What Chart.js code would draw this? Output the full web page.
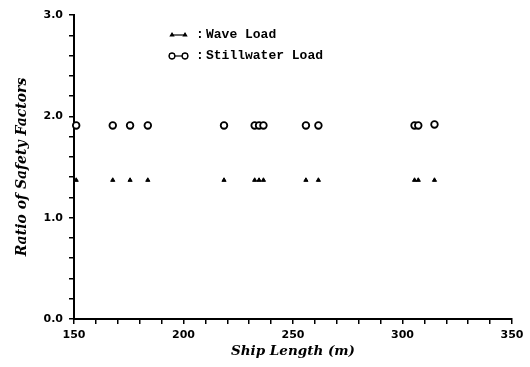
<!DOCTYPE html>
<html>
<head>
<meta charset="utf-8">
<script src="https://cdn.jsdelivr.net/npm/chart.js@4.4.1/dist/chart.umd.min.js"></script>
<style>
    html, body { margin: 0; padding: 0; background: #fff; }
    #wrap { width: 530px; height: 367px; }
</style>
</head>
<body>
<div id="wrap"><canvas id="safety-chart" width="530" height="367"></canvas></div>
<script>
// ship lengths (m)
const shipLengths = [151, 167.7, 175.6, 183.7, 218.5, 232.5, 234.5, 236.5, 255.9, 261.6, 305.5, 307.2, 314.6];
const waveRatios = [1.37, 1.37, 1.37, 1.37, 1.37, 1.37, 1.37, 1.37, 1.37, 1.37, 1.37, 1.37, 1.37];
const stillwaterRatios = [1.91, 1.91, 1.91, 1.91, 1.91, 1.91, 1.91, 1.91, 1.91, 1.91, 1.91, 1.91, 1.92];
const seriesLabels = ['Wave Load', 'Stillwater Load'];
const xLabelTicks = [150, 200, 250, 300, 350];
const yLabelTicks = [0, 1, 2, 3];

const toPoints = (xs, ys) => xs.map((x, i) => ({ x: x, y: ys[i] }));

const tickFont = { family: 'DejaVu Sans', size: 11, weight: 'bold' };
const titleFont = { family: 'DejaVu Serif', size: 13.5, weight: 'bold', style: 'italic' };

// legend drawn inside the plot, like the original figure
const insideLegend = {
    id: 'insideLegend',
    afterDraw(chart) {
        const ctx = chart.ctx;
        const rows = [
            { y: 35, ds: chart.data.datasets[0] },
            { y: 56, ds: chart.data.datasets[1] }
        ];
        ctx.save();
        ctx.font = 'bold 13px "Liberation Mono"';
        ctx.textBaseline = 'middle';
        ctx.fillStyle = '#000';
        ctx.strokeStyle = '#000';
        rows.forEach(function (row) {
            ctx.lineWidth = 1.2;
            ctx.beginPath();
            ctx.moveTo(172, row.y);
            ctx.lineTo(185, row.y);
            ctx.stroke();
            [172, 185].forEach(function (px) {
                Chart.helpers.drawPoint(ctx, {
                    pointStyle: row.ds.pointStyle,
                    radius: row.ds.pointRadius - 0.5,
                    borderWidth: row.ds.borderWidth
                }, px, row.y);
                if (row.ds.pointStyle === 'circle') {
                    ctx.fillStyle = '#fff';
                    ctx.fill();
                    ctx.stroke();
                    ctx.fillStyle = '#000';
                }
            });
            ctx.fillText(':', 196, row.y);
            ctx.fillText(row.ds.label, 206, row.y);
        });
        ctx.restore();
    }
};

new Chart(document.getElementById('safety-chart'), {
    type: 'scatter',
    data: {
        datasets: [{
            label: seriesLabels[0],
            data: toPoints(shipLengths, waveRatios),
            pointStyle: 'triangle',
            pointRadius: 2.4,
            backgroundColor: '#000',
            borderColor: '#000',
            borderWidth: 1
        }, {
            label: seriesLabels[1],
            data: toPoints(shipLengths, stillwaterRatios),
            pointStyle: 'circle',
            pointRadius: 3.3,
            backgroundColor: '#fff',
            borderColor: '#000',
            borderWidth: 1.8
        }]
    },
    options: {
        responsive: false,
        animation: false,
        clip: false,
        layout: { padding: { top: 15, right: 18, left: 0, bottom: 0 } },
        plugins: {
            legend: { display: false },
            tooltip: { enabled: false }
        },
        scales: {
            x: {
                type: 'linear',
                min: 150,
                max: 350,
                afterFit: function (scale) { scale.height = 48; },
                ticks: {
                    stepSize: 10,
                    autoSkip: false,
                    maxRotation: 0,
                    color: '#000',
                    font: tickFont,
                    padding: 5,
                    callback: v => xLabelTicks.includes(v) ? String(v) : ''
                },
                grid: {
                    drawOnChartArea: false,
                    drawTicks: true,
                    tickLength: 5,
                    color: '#000',
                    lineWidth: 1.5
                },
                border: { display: true, color: '#000', width: 2 },
                title: {
                    display: true,
                    text: 'Ship Length (m)',
                    color: '#000',
                    font: titleFont,
                    padding: { top: 2, bottom: 7 }
                }
            },
            y: {
                type: 'linear',
                min: 0,
                max: 3,
                afterFit: function (scale) { scale.width = 74; },
                ticks: {
                    stepSize: 0.2,
                    autoSkip: false,
                    color: '#000',
                    font: tickFont,
                    padding: 6,
                    callback: v => yLabelTicks.some(t => Math.abs(t - v) < 1e-6) ? v.toFixed(1) : ''
                },
                grid: {
                    drawOnChartArea: false,
                    drawTicks: true,
                    tickLength: 5,
                    color: '#000',
                    lineWidth: 1.5
                },
                border: { display: true, color: '#000', width: 2 },
                title: {
                    display: true,
                    text: 'Ratio of Safety Factors',
                    color: '#000',
                    font: { family: 'DejaVu Serif', size: 14, weight: 'bold', style: 'italic' },
                    padding: { top: 14, bottom: 0 }
                }
            }
        }
    },
    plugins: [insideLegend]
});
</script>
</body>
</html>
